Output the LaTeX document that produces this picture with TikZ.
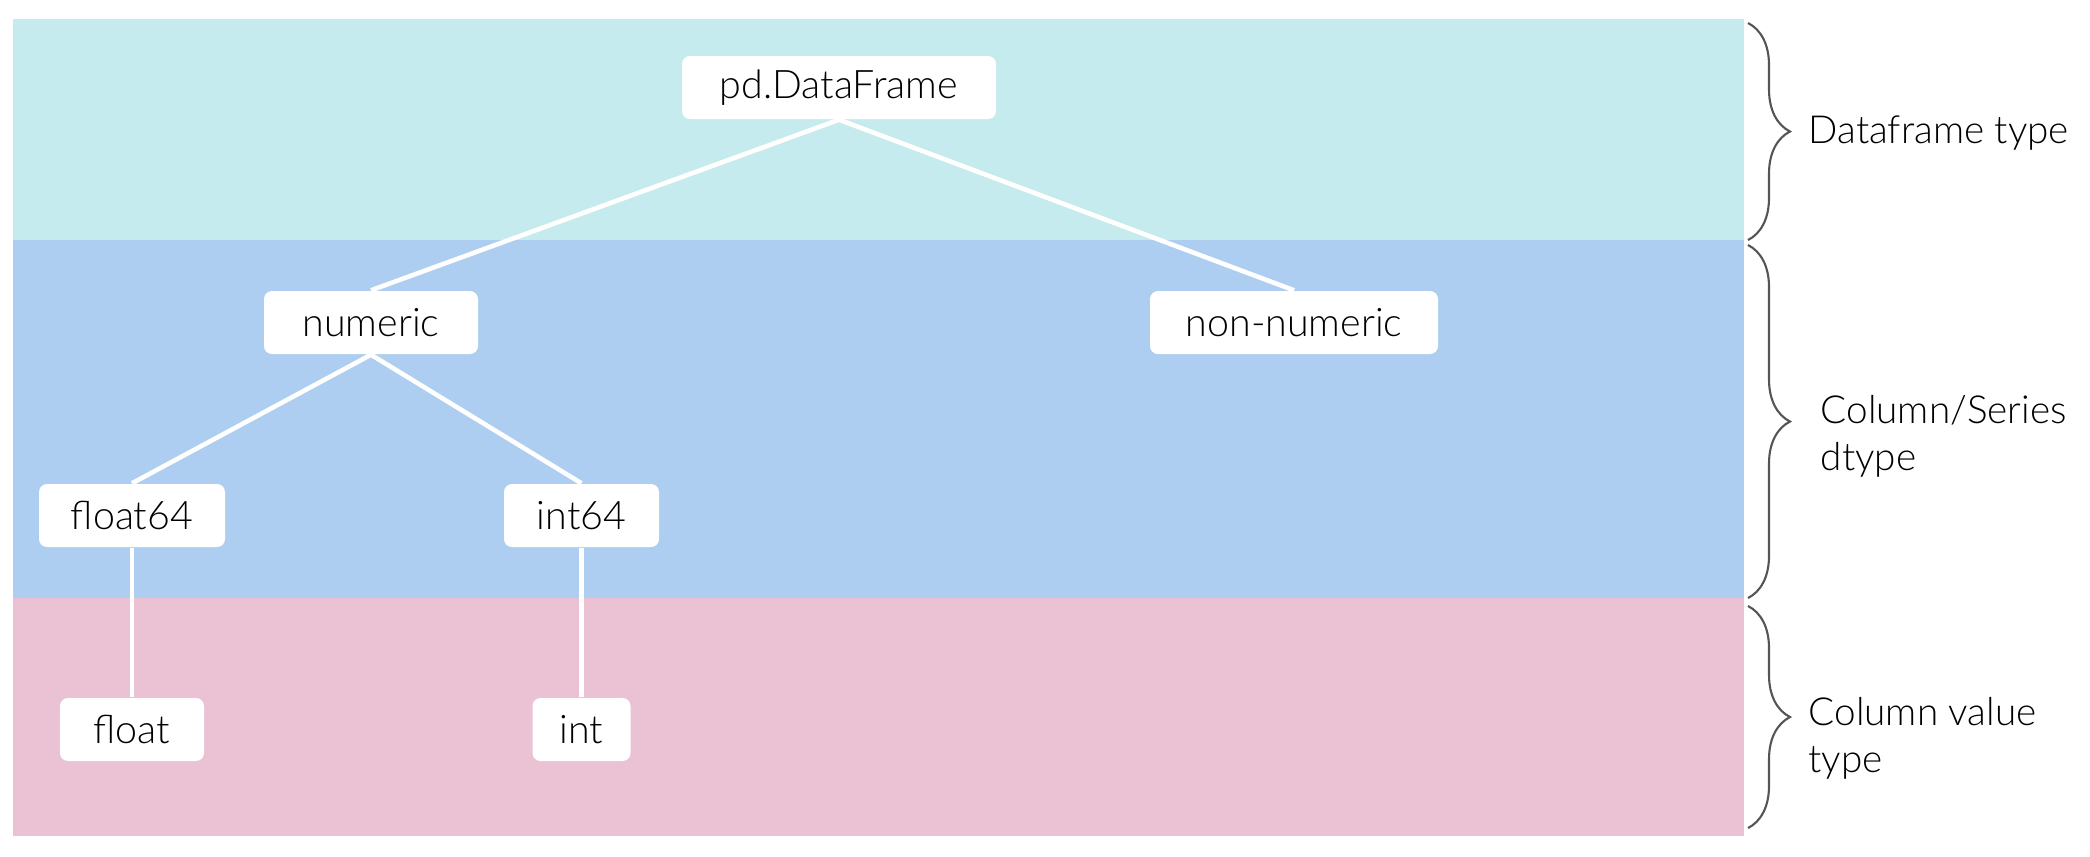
\documentclass[tikz,border=0pt]{standalone}
\usepackage{fontspec}
\setmainfont{Lato Light}
\usetikzlibrary{decorations.pathreplacing}
\definecolor{bandtop}{HTML}{C6EBEE}
\definecolor{bandmid}{HTML}{ADCEF0}
\definecolor{bandlow}{HTML}{EAC2D4}
\definecolor{bracegray}{HTML}{555555}

\begin{document}
\begin{tikzpicture}[
    box/.style={fill=white, rounded corners=0.08cm, minimum height=0.63cm,
                inner xsep=0.2cm, font=\fontsize{11.2}{13}\selectfont},
    link/.style={white, line width=1.3pt},
    layer/.style={align=left, anchor=west, inner xsep=0pt,
                  font=\fontsize{11}{13.4}\selectfont},
    bracket/.style={bracegray, line width=0.6pt, decorate,
                    decoration={brace, amplitude=0.42cm}}
  ]
      %► Canvas
      \useasboundingbox (0,0) rectangle (20.9,-8.56);

      %► Background bands
      \fill[bandtop] (0.13,-0.19) rectangle (17.44,-2.40);
      \fill[bandmid] (0.13,-2.40) rectangle (17.44,-5.98);
      \fill[bandlow] (0.13,-5.98) rectangle (17.44,-8.36);

      %► Type nodes
      \node[box, minimum width=3.14cm] (df)     at (8.39,-0.875) {pd.DataFrame};   % dataframe level
      \node[box, minimum width=2.14cm] (num)    at (3.71,-3.225) {numeric};        % dtype level
      \node[box, minimum width=2.88cm] (nonnum) at (12.94,-3.225) {non-numeric};
      \node[box, minimum width=1.86cm] (f64)    at (1.32,-5.155) {float64};
      \node[box, minimum width=1.55cm] (i64)    at (5.815,-5.155) {int64};
      \node[box, minimum width=1.44cm] (fl)     at (1.32,-7.295) {float};          % value level
      \node[box, minimum width=0.98cm] (in)     at (5.815,-7.295) {int};

      %► Connectors
      \draw[link] (df.south) -- (num.north);
      \draw[link] (df.south) -- (nonnum.north);
      \draw[link] (num.south) -- (f64.north);
      \draw[link] (num.south) -- (i64.north);
      \draw[link] (f64.south) -- (fl.north);
      \draw[link] (i64.south) -- (in.north);

      %► Braces
      \draw[bracket] (17.48,-0.23) -- (17.48,-2.40);
      \draw[bracket] (17.48,-2.45) -- (17.48,-5.98);
      \draw[bracket] (17.48,-6.06) -- (17.48,-8.28);

      %► Level labels
      \node[layer] (toplbl) at (18.08,-1.33) {Dataframe type};
      \node[layer] (midlbl) at (18.20,-4.365) {Column/Series\\dtype};
      \node[layer] (lowlbl) at (18.08,-7.38) {Column value\\type};
\end{tikzpicture}
\end{document}
